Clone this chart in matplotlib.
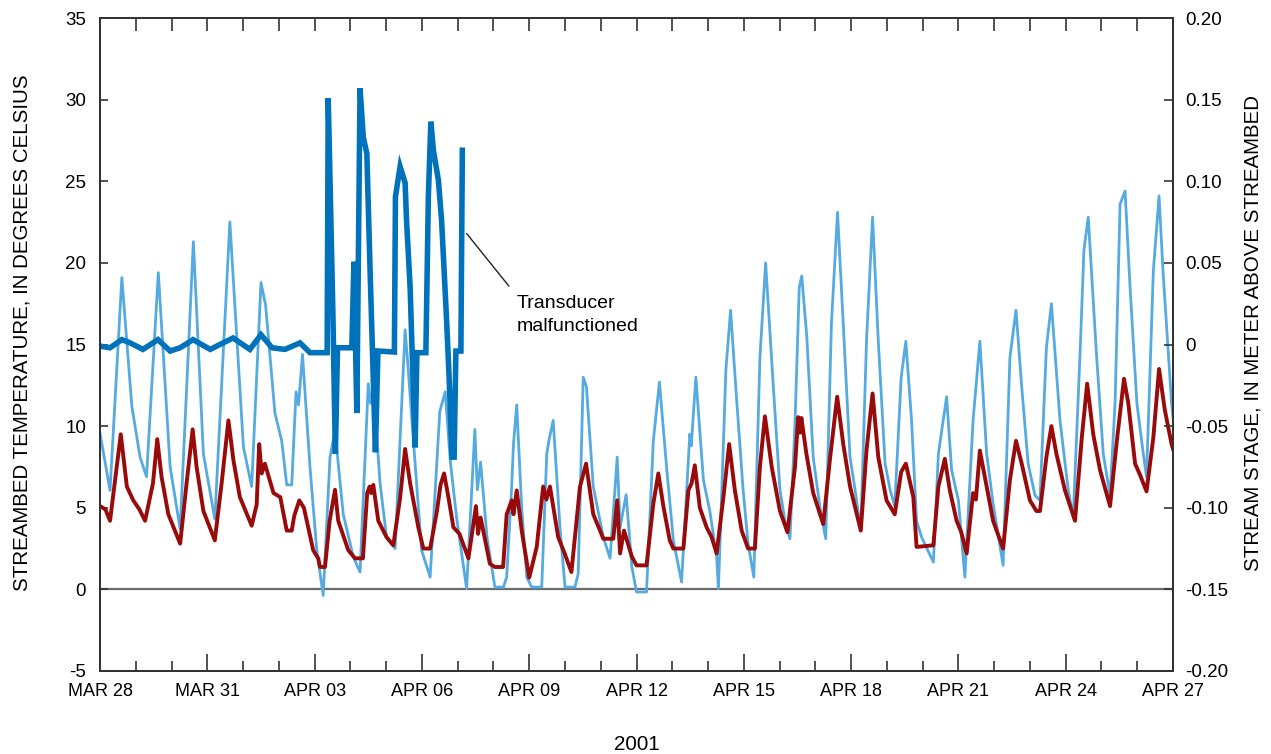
import numpy as np
import pandas as pd
import matplotlib
matplotlib.use("Agg")
from matplotlib import pyplot as plt
import matplotlib.dates as mdates
from matplotlib.ticker import FuncFormatter, MultipleLocator

plt.rcParams['font.family'] = ['Liberation Sans', 'DejaVu Sans']
plt.rcParams['axes.unicode_minus'] = False

start = pd.Timestamp("2001-03-28")

# stream temperature (deg C), days after MAR 28 00:00
stream_day = [0.00, 0.28, 0.61, 0.89, 1.12, 1.30, 1.63, 1.96, 2.24, 2.61, 2.89, 3.21, 3.63, 4.01,
              4.24, 4.50, 4.63, 4.89, 5.08, 5.22, 5.36, 5.48, 5.55, 5.66, 5.87, 6.06, 6.24, 6.43,
              6.57, 6.80, 7.08, 7.27, 7.50, 7.56, 7.64, 7.83, 8.01, 8.25, 8.53, 8.62, 8.81, 8.99,
              9.23, 9.50, 9.65, 9.80, 9.97, 10.25, 10.48, 10.55, 10.64, 10.82, 11.04, 11.28, 11.37,
              11.51, 11.56, 11.65, 11.79, 11.93, 12.07, 12.35, 12.49, 12.55, 12.67, 12.86, 13.00,
              13.28, 13.37, 13.51, 13.60, 13.79, 14.07, 14.26, 14.46, 14.54, 14.71, 14.87, 15.00,
              15.28, 15.47, 15.64, 15.84, 16.03, 16.26, 16.49, 16.53, 16.66, 16.87, 17.05, 17.24,
              17.29, 17.50, 17.63, 17.80, 17.98, 18.12, 18.28, 18.45, 18.61, 18.82, 19.01, 19.15,
              19.29, 19.43, 19.55, 19.62, 19.76, 19.94, 20.13, 20.29, 20.45, 20.62, 20.78, 20.97,
              21.11, 21.27, 21.43, 21.60, 21.76, 21.95, 22.09, 22.22, 22.40, 22.53, 22.69, 22.83,
              22.97, 23.30, 23.44, 23.67, 23.81, 24.00, 24.18, 24.41, 24.60, 24.79, 24.97, 25.25,
              25.44, 25.61, 25.77, 25.95, 26.14, 26.28, 26.46, 26.60, 26.84, 27.07, 27.21, 27.40,
              27.51, 27.63, 27.86, 28.05, 28.24, 28.38, 28.52, 28.66, 28.80, 28.99, 29.17, 29.26,
              29.45, 29.61, 29.72, 29.96, 30.00]
stream_temp = [9.55, 6.06, 19.1, 11.2, 8.1, 6.9, 19.4, 7.5, 3.7, 21.3, 8.3, 4.3, 22.5, 8.7,
               6.3, 18.8, 17.4, 10.8, 9.1, 6.4, 6.4, 12.1, 11.3, 14.4, 7.5, 2.4, -0.37, 8.1,
               9.7, 4.6, 2.0, 1.06, 12.6, 11.4, 12.3, 6.5, 3.2, 2.5, 15.9, 13.4, 7.7, 2.4,
               0.75, 10.9, 12.1, 7.7, 4.4, 0.04, 9.8, 6.1, 7.8, 3.2, 0.14, 0.14, 0.75,
               6.3, 8.9, 11.3, 5.0, 0.75, 0.14, 0.14, 8.3, 9.1, 10.35, 3.8, 0.14,
               0.14, 0.97, 13.0, 12.4, 6.3, 3.2, 1.9, 8.1, 3.8, 5.8, 1.37, -0.16,
               -0.16, 9.1, 12.7, 7.5, 3.0, 0.45, 9.5, 8.8, 13.0, 6.7, 4.8, 2.0,
               0.04, 13.5, 17.1, 11.6, 6.1, 2.8, 0.75, 14.2, 20.0, 12.6, 6.1, 4.2,
               3.1, 10.1, 18.5, 19.2, 15.5, 8.1, 5.0, 3.1, 16.3, 23.1, 16.3, 8.1,
               6.1, 3.6, 15.2, 22.8, 15.2, 7.7, 6.1, 5.1, 13.0, 15.2, 10.35, 4.2,
               3.2, 1.67, 8.3, 11.8, 7.3, 5.45, 0.75, 10.35, 15.2, 8.3, 5.25, 1.47,
               14.2, 17.1, 12.4, 7.7, 5.76, 5.45, 14.8, 17.5, 10.35, 6.1, 4.4, 14.4,
               20.8, 22.8, 14.4, 8.3, 5.76, 11.4, 23.6, 24.4, 18.5, 11.4, 8.3, 6.9,
               19.5, 24.1, 19.5, 11.4, 10.5]

# streambed temperature (deg C)
bed_day = [0.00, 0.15, 0.28, 0.58, 0.75, 0.93, 1.10, 1.26, 1.48, 1.60, 1.72, 1.91, 2.24, 2.42,
           2.59, 2.70, 2.89, 3.21, 3.40, 3.59, 3.73, 3.91, 4.24, 4.38, 4.45, 4.52, 4.61, 4.85,
           5.04, 5.22, 5.36, 5.43, 5.57, 5.70, 5.96, 6.10, 6.15, 6.29, 6.42, 6.57, 6.66, 6.94,
           7.13, 7.35, 7.47, 7.54, 7.58, 7.64, 7.78, 8.01, 8.20, 8.39, 8.53, 8.67, 8.90, 9.04,
           9.23, 9.42, 9.52, 9.62, 9.74, 9.88, 10.05, 10.30, 10.51, 10.57, 10.64, 10.90, 11.04,
           11.27, 11.37, 11.51, 11.56, 11.65, 11.79, 12.00, 12.21, 12.39, 12.48, 12.58, 12.81,
           12.99, 13.18, 13.42, 13.59, 13.79, 13.98, 14.07, 14.35, 14.46, 14.54, 14.65, 14.87,
           15.00, 15.28, 15.47, 15.61, 15.75, 15.93, 16.03, 16.31, 16.45, 16.54, 16.63, 16.77,
           16.96, 17.10, 17.24, 17.43, 17.59, 17.75, 17.94, 18.12, 18.31, 18.45, 18.59, 18.78,
           19.01, 19.22, 19.43, 19.52, 19.57, 19.61, 19.75, 19.94, 20.22, 20.41, 20.61, 20.78,
           20.97, 21.27, 21.43, 21.60, 21.76, 21.99, 22.22, 22.40, 22.53, 22.74, 22.83, 23.30,
           23.44, 23.62, 23.76, 23.95, 24.08, 24.23, 24.41, 24.49, 24.60, 24.79, 24.97, 25.25,
           25.44, 25.61, 25.77, 26.00, 26.18, 26.28, 26.46, 26.60, 26.74, 26.98, 27.26, 27.45,
           27.60, 27.77, 27.96, 28.24, 28.43, 28.63, 28.75, 28.94, 29.08, 29.26, 29.45, 29.61,
           29.77, 29.96, 30.00]
bed_temp = [5.1, 4.9, 4.2, 9.5, 6.3, 5.45, 4.9, 4.2, 6.5, 9.2, 6.9, 4.6, 2.8, 6.5,
            9.8, 7.5, 4.8, 3.0, 6.5, 10.35, 7.9, 5.65, 3.9, 5.2, 8.9, 7.1, 7.7, 5.9,
            5.65, 3.6, 3.6, 4.5, 5.45, 5.0, 2.4, 1.9, 1.37, 1.37, 4.2, 6.1, 4.2, 2.4,
            1.9, 1.9, 5.9, 6.3, 5.9, 6.4, 4.2, 3.2, 2.7, 5.6, 8.6, 6.5, 3.8, 2.5,
            2.5, 4.8, 6.4, 7.1, 5.65, 3.8, 3.4, 1.9, 5.1, 3.4, 4.4, 1.57, 1.37,
            1.37, 4.6, 5.45, 4.6, 6.06, 3.6, 0.72, 2.6, 6.3, 5.5, 6.3, 3.2,
            2.2, 1.06, 6.3, 7.7, 4.6, 3.6, 3.1, 3.1, 5.45, 2.2, 3.6, 2.0,
            1.47, 1.47, 5.25, 7.1, 5.1, 3.0, 2.5, 2.5, 6.06, 6.5, 7.6, 5.0,
            3.8, 3.2, 2.2, 5.65, 8.9, 6.06, 3.6, 2.5, 2.5, 7.5, 10.6, 7.5,
            4.8, 3.5, 7.5, 10.55, 9.6, 10.5, 8.3, 5.9, 4.0, 8.0, 11.8, 8.9,
            6.3, 3.6, 8.5, 12.0, 8.1, 5.45, 4.6, 7.2, 7.7, 5.65, 2.6, 2.7,
            6.3, 8.0, 6.06, 4.2, 3.5, 2.2, 5.9, 5.5, 8.5, 6.3, 4.2, 2.5,
            6.7, 9.1, 7.7, 5.45, 4.8, 4.8, 8.1, 10.0, 8.3, 6.06, 4.2, 9.3,
            12.6, 9.5, 7.3, 5.1, 9.1, 12.9, 11.4, 7.7, 7.0, 6.0, 9.3, 13.5,
            11.0, 8.9, 8.6]

# stream stage (m above streambed), record ends when the transducer failed
stage_day = [0.00, 0.28, 0.61, 0.84, 1.20, 1.62, 1.96, 2.24, 2.60, 3.08, 3.35, 3.72, 4.19, 4.50,
             4.81, 5.17, 5.59, 5.87, 6.35, 6.38, 6.51, 6.58, 6.64, 7.04, 7.10, 7.18, 7.27, 7.36,
             7.46, 7.55, 7.70, 7.77, 8.23, 8.26, 8.39, 8.53, 8.57, 8.67, 8.81, 8.86, 9.11, 9.18,
             9.25, 9.32, 9.46, 9.55, 9.69, 9.76, 9.84, 9.90, 9.95, 10.09, 10.13]
stage_m = [-0.001, -0.002, 0.003, 0.001, -0.003, 0.003, -0.004, -0.002, 0.003, -0.003, 0.0,
           0.004, -0.003, 0.006, -0.002, -0.003, 0.001, -0.005, -0.005, 0.151, 0.02, -0.067,
           -0.002, -0.002, 0.0507, -0.042, 0.157, 0.127, 0.117, 0.046, -0.066, -0.004, -0.0046,
           0.0906, 0.109, 0.099, 0.076, 0.035, -0.063, -0.005, -0.005, 0.0906, 0.1365, 0.119,
           0.1008, 0.076, 0.015, -0.02, -0.069, -0.069, -0.004, -0.004, 0.119]


def to_dates(days):
    return start + pd.to_timedelta(np.array(days), unit="D")


fig = plt.figure(figsize=(12.71, 7.54), dpi=100)
ax = fig.add_axes([0.0787, 0.1101, 0.8442, 0.8660])
ax2 = ax.twinx()

ax.axhline(0, color="#6b6b6b", lw=1.6, zorder=1)
ax.plot(to_dates(stream_day), stream_temp, color="#55aae0", lw=2.0, zorder=2)
ax.plot(to_dates(bed_day), bed_temp, color="#990a0a", lw=2.8, zorder=3)
ax2.plot(to_dates(stage_day), stage_m, color="#0071bb", lw=4.0, solid_joinstyle="miter")

ax.set_xlim(start, start + pd.Timedelta(days=30))
ax.set_ylim(-5, 35)
ax2.set_ylim(-0.20, 0.20)

ax.xaxis.set_major_locator(mdates.DayLocator(interval=3))
ax.xaxis.set_minor_locator(mdates.DayLocator())
ax.xaxis.set_major_formatter(FuncFormatter(lambda v, p: mdates.num2date(v).strftime("%b %d").upper()))
ax.yaxis.set_major_locator(MultipleLocator(5))
ax2.yaxis.set_major_locator(MultipleLocator(0.05))
ax2.yaxis.set_major_formatter(FuncFormatter(lambda v, p: "0" if abs(v) < 1e-9 else "%.2f" % v))

spine_c = "#333333"
for a in (ax, ax2):
    for s in a.spines.values():
        s.set_color(spine_c)
        s.set_linewidth(1.4)

ax.tick_params(axis="x", which="major", direction="in", length=12, width=1.2, pad=9,
               labelsize=13, color=spine_c)
ax.tick_params(axis="x", which="minor", direction="in", length=7, width=1.2, color=spine_c)
ax.tick_params(axis="y", direction="in", length=6, width=1.2, pad=10, labelsize=13.5, color=spine_c)
ax2.tick_params(axis="y", direction="in", length=6.5, width=1.2, pad=9, labelsize=13.5, color=spine_c)

top = ax.secondary_xaxis("top")
top.xaxis.set_major_locator(mdates.DayLocator())
top.tick_params(direction="in", length=9, width=1.2, labeltop=False, color=spine_c)
top.spines["top"].set_color(spine_c)
top.spines["top"].set_linewidth(1.4)

ax.set_ylabel("STREAMBED TEMPERATURE, IN DEGREES CELSIUS", fontsize=14.8)
ax.yaxis.set_label_coords(-0.0638, 0.518)
ax2.set_ylabel("STREAM STAGE, IN METER ABOVE STREAMBED", fontsize=14.8)
ax2.yaxis.set_label_coords(1.0653, 0.518)
ax.set_xlabel("2001", fontsize=14.8)
ax.xaxis.set_label_coords(0.5005, -0.098)

ax.annotate("Transducer\nmalfunctioned",
            xy=(start + pd.Timedelta(days=10.25), 21.8),
            xytext=(start + pd.Timedelta(days=11.64), 16.8),
            ha="left", va="center", fontsize=14, linespacing=1.42,
            arrowprops=dict(arrowstyle="-", color="#222222", lw=1.0, relpos=(0, 1),
                            shrinkA=6, shrinkB=0))

fig.savefig("out.png", dpi=100)
